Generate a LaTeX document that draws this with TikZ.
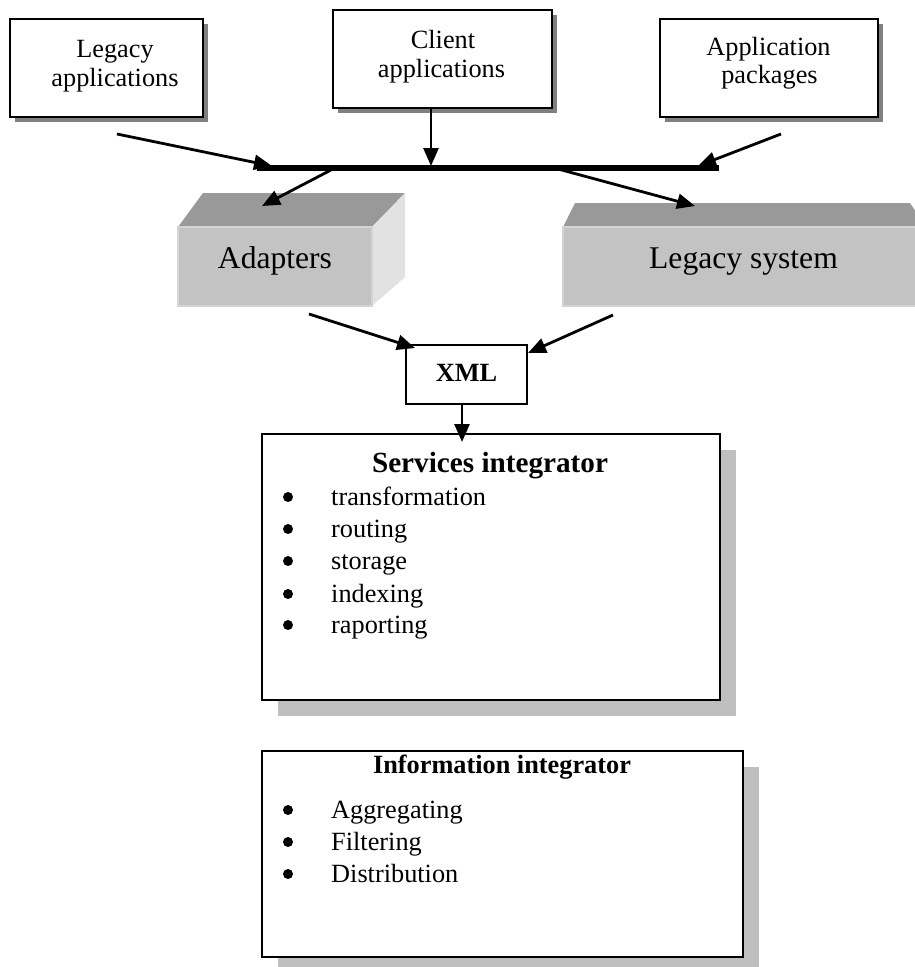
\documentclass[tikz,border=0pt]{standalone}
\usepackage{fontspec}
\setmainfont{Liberation Serif}
\usetikzlibrary{arrows.meta,shadows}
\definecolor{frontgray}{HTML}{C3C3C3}
\definecolor{edgegray}{HTML}{D4D4D4}
\definecolor{topgray}{HTML}{999999}
\definecolor{sidegray}{HTML}{E2E2E2}
\begin{document}
\begin{tikzpicture}[x=1pt,y=-1pt,
  smallbox/.style={draw=black, line width=2pt, fill=white, inner sep=0pt, outer sep=0pt,
    drop shadow={shadow xshift=5pt, shadow yshift=-5pt, opacity=1, fill=black!50}},
  bigbox/.style={draw=black, line width=2pt, fill=white, inner sep=0pt, outer sep=0pt,
    drop shadow={shadow xshift=16pt, shadow yshift=-16pt, opacity=1, fill=black!25}},
  plainbox/.style={draw=black, line width=2pt, fill=white, inner sep=0pt, outer sep=0pt},
  arr/.style={line width=2.8pt, -{Triangle[length=18pt,width=15pt]}},
  tnorm/.style={font=\fontsize{26.3}{30}\selectfont, anchor=base, inner sep=0pt},
  tbig/.style={font=\fontsize{31.6}{36}\selectfont, anchor=base, inner sep=0pt},
  tbold/.style={font=\fontsize{26.3}{30}\selectfont\bfseries, anchor=base, inner sep=0pt},
  ttitle/.style={font=\fontsize{29.2}{34}\selectfont\bfseries, anchor=base, inner sep=0pt},
  titem/.style={font=\fontsize{26.3}{30}\selectfont, anchor=base west, inner sep=0pt},
  bul/.style={circle, fill=black, inner sep=0pt, minimum size=10pt}
]
\clip (0,0) rectangle (915,967);
\fill[white] (0,0) rectangle (915,967);

% top boxes
\node[smallbox, minimum width=193pt, minimum height=98pt] (legacyapp) at (106.5,68) {};
\node[smallbox, minimum width=219pt, minimum height=98pt] (clientapp) at (442.5,59) {};
\node[smallbox, minimum width=218pt, minimum height=98pt] (apppack) at (769,68) {};
\node[tnorm] (t1a) at (115,57) {Legacy};
\node[tnorm] (t1b) at (115,86) {applications};
\node[tnorm] (t2a) at (443,48) {Client};
\node[tnorm] (t2b) at (441.5,77) {applications};
\node[tnorm] (t3a) at (768.5,55) {Application};
\node[tnorm] (t3b) at (769.5,83) {packages};

% bus
\coordinate (busL) at (257,168);
\coordinate (busR) at (719,168);
\draw[line width=6pt] (busL) -- (busR);

% adapters 3D block
\fill[topgray] (178,227) -- (203,193) -- (405,193) -- (372,227) -- cycle;
\fill[sidegray] (372,227) -- (405,193) -- (405,277) -- (372,306) -- cycle;
\node[fill=frontgray, draw=edgegray, line width=1.5pt, inner sep=0pt, outer sep=0pt,
  minimum width=194pt, minimum height=79pt] (adapters) at (275,266.5) {};
\node[tbig] (tad) at (275,268) {Adapters};

% legacy system 3D block
\fill[topgray] (563,227) -- (575,203) -- (910,203) -- (916,212) -- (916,227) -- cycle;
\node[fill=frontgray, draw=edgegray, line width=1.5pt, inner sep=0pt, outer sep=0pt,
  minimum width=360pt, minimum height=79pt] (legsys) at (743,266.5) {};
\node[tbig] (tls) at (743.5,268) {Legacy system};

% XML
\node[plainbox, minimum width=121pt, minimum height=59pt] (xml) at (466.5,374.5) {};
\node[tbold] (txml) at (466.5,381) {XML};

% services integrator
\node[bigbox, minimum width=458pt, minimum height=266pt] (serv) at (491,567) {};
\node[ttitle] (tsi) at (490,472) {Services integrator};
\foreach \y/\w [count=\i] in {505/transformation,537/routing,569/storage,602/indexing,633/raporting}{
  \node[bul] (sb\i) at (288,\y-8) {};
  \node[titem] (si\i) at (331,\y) {\w};
}

% information integrator
\node[bigbox, minimum width=481pt, minimum height=206pt] (info) at (502.5,854) {};
\node[tbold] (tii) at (502,773) {Information integrator};
\foreach \y/\w [count=\i] in {818/Aggregating,850/Filtering,882/Distribution}{
  \node[bul] (ib\i) at (288,\y-8) {};
  \node[titem] (ii\i) at (331,\y) {\w};
}

% arrow coordinates
\coordinate (a1s) at (117,134);  \coordinate (a1e) at (272,166);
\coordinate (a2s) at (431,109);  \coordinate (a2e) at (431,166);
\coordinate (a3s) at (781,134);  \coordinate (a3e) at (698,166);
\coordinate (a4s) at (331,170);  \coordinate (a4e) at (262,206);
\coordinate (a5s) at (558,169);  \coordinate (a5e) at (695,206);
\coordinate (a6s) at (309,314);  \coordinate (a6e) at (415,348);
\coordinate (a7s) at (613,315);  \coordinate (a7e) at (528,353);
\coordinate (a8s) at (462,405);  \coordinate (a8e) at (462,442);

\draw[arr] (a1s) -- (a1e);
\draw[arr] (a2s) -- (a2e);
\draw[arr] (a3s) -- (a3e);
\draw[arr] (a4s) -- (a4e);
\draw[arr] (a5s) -- (a5e);
\draw[arr] (a6s) -- (a6e);
\draw[arr] (a7s) -- (a7e);
\draw[arr] (a8s) -- (a8e);
\end{tikzpicture}
\end{document}
